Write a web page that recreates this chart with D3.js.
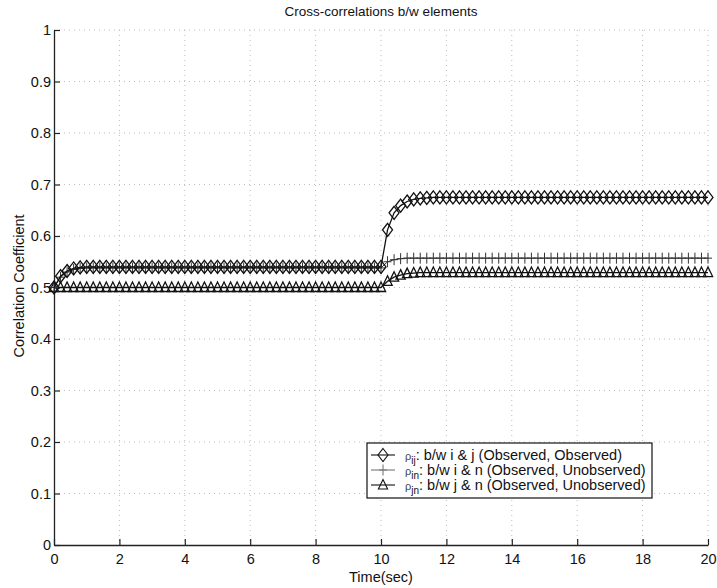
<!DOCTYPE html>
<html lang="en">
<head>
<meta charset="utf-8">
<title>Cross-correlations</title>
<script src="https://d3js.org/d3.v7.min.js"></script>
<style>
  body { margin: 0; background: #fff; }
  text { font-family: "Liberation Sans", Arial, sans-serif; fill: #111; }
</style>
</head>
<body>
<svg id="chart" width="717" height="588"></svg>
<script>
// sample times, 0..20 s every 0.2 s
var time = d3.range(0, 101).map(function(i) { return +(i * 0.2).toFixed(1); });

var rhoIJ = [0.500, 0.522, 0.532, 0.537, 0.539, 0.540, 0.540, 0.540, 0.540, 0.540,
  0.540, 0.540, 0.540, 0.540, 0.540, 0.540, 0.540, 0.540, 0.540, 0.540,
  0.540, 0.540, 0.540, 0.540, 0.540, 0.540, 0.540, 0.540, 0.540, 0.540,
  0.540, 0.540, 0.540, 0.540, 0.540, 0.540, 0.540, 0.540, 0.540, 0.540,
  0.540, 0.540, 0.540, 0.540, 0.540, 0.540, 0.540, 0.540, 0.540, 0.540,
  0.540, 0.612, 0.645, 0.659, 0.667, 0.671, 0.673, 0.674, 0.675, 0.675,
  0.675, 0.675, 0.675, 0.675, 0.675, 0.675, 0.675, 0.675, 0.675, 0.675,
  0.675, 0.675, 0.675, 0.675, 0.675, 0.675, 0.675, 0.675, 0.675, 0.675,
  0.675, 0.675, 0.675, 0.675, 0.675, 0.675, 0.675, 0.675, 0.675, 0.675,
  0.675, 0.675, 0.675, 0.675, 0.675, 0.675, 0.675, 0.675, 0.675, 0.675,
  0.675];

var rhoIN = [0.500, 0.520, 0.530, 0.535, 0.537, 0.538, 0.538, 0.538, 0.538, 0.538,
  0.538, 0.538, 0.538, 0.538, 0.538, 0.538, 0.538, 0.538, 0.538, 0.538,
  0.538, 0.538, 0.538, 0.538, 0.538, 0.538, 0.538, 0.538, 0.538, 0.538,
  0.538, 0.538, 0.538, 0.538, 0.538, 0.538, 0.538, 0.538, 0.538, 0.538,
  0.538, 0.538, 0.538, 0.538, 0.538, 0.538, 0.538, 0.538, 0.538, 0.538,
  0.538, 0.550, 0.554, 0.556, 0.557, 0.557, 0.557, 0.557, 0.557, 0.557,
  0.557, 0.557, 0.557, 0.557, 0.557, 0.557, 0.557, 0.557, 0.557, 0.557,
  0.557, 0.557, 0.557, 0.557, 0.557, 0.557, 0.557, 0.557, 0.557, 0.557,
  0.557, 0.557, 0.557, 0.557, 0.557, 0.557, 0.557, 0.557, 0.557, 0.557,
  0.557, 0.557, 0.557, 0.557, 0.557, 0.557, 0.557, 0.557, 0.557, 0.557,
  0.557];

var rhoJN = [0.500, 0.500, 0.500, 0.500, 0.500, 0.500, 0.500, 0.500, 0.500, 0.500,
  0.500, 0.500, 0.500, 0.500, 0.500, 0.500, 0.500, 0.500, 0.500, 0.500,
  0.500, 0.500, 0.500, 0.500, 0.500, 0.500, 0.500, 0.500, 0.500, 0.500,
  0.500, 0.500, 0.500, 0.500, 0.500, 0.500, 0.500, 0.500, 0.500, 0.500,
  0.500, 0.500, 0.500, 0.500, 0.500, 0.500, 0.500, 0.500, 0.500, 0.500,
  0.500, 0.512, 0.520, 0.524, 0.527, 0.528, 0.529, 0.529, 0.529, 0.529,
  0.529, 0.529, 0.529, 0.529, 0.529, 0.529, 0.529, 0.529, 0.529, 0.529,
  0.529, 0.529, 0.529, 0.529, 0.529, 0.529, 0.529, 0.529, 0.529, 0.529,
  0.529, 0.529, 0.529, 0.529, 0.529, 0.529, 0.529, 0.529, 0.529, 0.529,
  0.529, 0.529, 0.529, 0.529, 0.529, 0.529, 0.529, 0.529, 0.529, 0.529,
  0.529];

var xTicks = [0, 2, 4, 6, 8, 10, 12, 14, 16, 18, 20];
var yTicks = [0, 0.1, 0.2, 0.3, 0.4, 0.5, 0.6, 0.7, 0.8, 0.9, 1];
var yTickLabels = ["0", "0.1", "0.2", "0.3", "0.4", "0.5", "0.6", "0.7", "0.8", "0.9", "1"];
var legendSub = ["ij", "in", "jn"];
var legendText = [": b/w i & j (Observed, Observed)",
                  ": b/w i & n (Observed, Unobserved)",
                  ": b/w j & n (Observed, Unobserved)"];

function chart() {
  var svg = d3.select("#chart");
  var left = 54, right = 708, top = 30, bottom = 545;

  var x = d3.scaleLinear().domain([0, 20]).range([left, right]);
  var y = d3.scaleLinear().domain([0, 1]).range([bottom, top]);

  // grid
  var grid = svg.append("g").attr("stroke", "#bbb").attr("stroke-width", 1)
    .attr("stroke-dasharray", "1,4");
  grid.selectAll(".gx").data(xTicks.slice(1)).enter().append("line")
    .attr("x1", d => x(d)).attr("x2", d => x(d)).attr("y1", top).attr("y2", bottom);
  grid.selectAll(".gy").data(yTicks.slice(1)).enter().append("line")
    .attr("x1", left).attr("x2", right).attr("y1", d => y(d)).attr("y2", d => y(d));

  // axes, ticks pointing inward
  var xAxis = d3.axisBottom(x).tickValues(xTicks).tickSizeInner(-6).tickSizeOuter(0)
    .tickPadding(9).tickFormat(d3.format("d"));
  var gx = svg.append("g").attr("transform", "translate(0," + bottom + ")").call(xAxis);
  var yAxis = d3.axisLeft(y).tickValues(yTicks).tickSizeInner(-6).tickSizeOuter(0)
    .tickPadding(3).tickFormat((d, i) => yTickLabels[i]);
  var gy = svg.append("g").attr("transform", "translate(" + left + ",0)").call(yAxis);
  [gx, gy].forEach(function(g) {
    g.select(".domain").attr("stroke", "#222").attr("stroke-width", 1.3);
    g.selectAll(".tick line").attr("stroke", "#222").attr("stroke-width", 1.2);
    g.selectAll(".tick text").style("font-size", "14.5px")
      .style("font-family", "Liberation Sans, Arial, sans-serif").attr("fill", "#111");
  });

  var line = d3.line().x((d, i) => x(time[i])).y(d => y(d));

  var diamond = "M0,-6.5L5,0L0,6.5L-5,0Z";
  var tri = "M0,-5.5L4.6,4L-4.6,4Z";
  var plus = "M0,-5.5V5.5M-4,0H4";

  var series = [
    { vals: rhoJN, shape: tri, stroke: "#111", lw: 1.3 },
    { vals: rhoIN, shape: plus, stroke: "#333", lw: 1 },
    { vals: rhoIJ, shape: diamond, stroke: "#111", lw: 1.3 }
  ];

  series.forEach(function(s) {
    svg.append("path").datum(s.vals).attr("d", line)
      .attr("fill", "none").attr("stroke", s.stroke).attr("stroke-width", s.lw);
    svg.append("g").selectAll("path").data(s.vals).enter().append("path")
      .attr("d", s.shape)
      .attr("transform", (d, i) => "translate(" + x(time[i]) + "," + y(d) + ")")
      .attr("fill", "none").attr("stroke", s.stroke).attr("stroke-width", s.lw);
  });

  // title and labels
  svg.append("text").attr("x", 381).attr("y", 16)
    .attr("text-anchor", "middle").style("font-size", "13.5px")
    .text("Cross-correlations b/w elements");
  svg.append("text").attr("x", 381).attr("y", 582)
    .attr("text-anchor", "middle").style("font-size", "14.5px").text("Time(sec)");
  svg.append("text").attr("transform", "translate(24,286) rotate(-90)")
    .attr("text-anchor", "middle").style("font-size", "14.5px").text("Correlation Coefficient");

  // legend
  var lg = svg.append("g");
  lg.append("rect").attr("x", 367).attr("y", 443).attr("width", 285).attr("height", 55)
    .attr("fill", "#fff").attr("stroke", "#111").attr("stroke-width", 1.2);
  var shapes = [diamond, plus, tri];
  var strokes = ["#111", "#777", "#111"];
  var rows = [455, 470, 485];
  rows.forEach(function(ry, i) {
    lg.append("line").attr("x1", 371).attr("x2", 395).attr("y1", ry).attr("y2", ry)
      .attr("stroke", strokes[i]).attr("stroke-width", 1.1);
    lg.append("path").attr("d", shapes[i]).attr("transform", "translate(383," + ry + ")")
      .attr("fill", "none").attr("stroke", strokes[i]).attr("stroke-width", 1.1);
    var t = lg.append("text").attr("x", 405).attr("y", ry + 4.5).style("font-size", "14.5px");
    t.append("tspan").style("font-size", "11px").attr("fill", "#444").text("\u03c1");
    t.append("tspan").attr("dy", 4).style("font-size", "10px").text(legendSub[i]);
    t.append("tspan").attr("dy", -4).text(legendText[i]);
  });
}
chart();
</script>
</body>
</html>
